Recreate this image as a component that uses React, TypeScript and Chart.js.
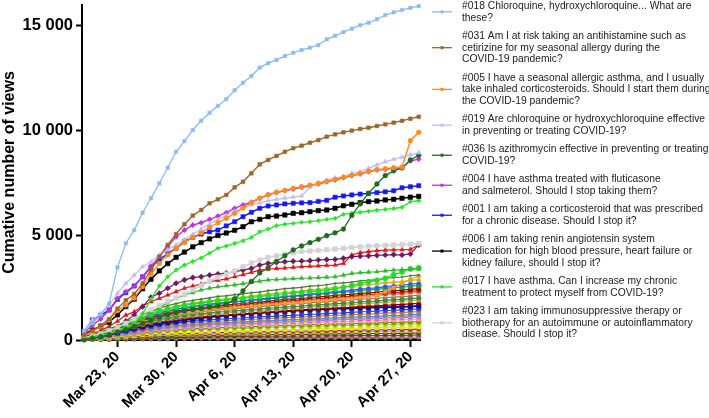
import React, { useEffect, useRef } from 'react';
import { Chart, registerables } from 'chart.js';
Chart.register(...registerables);

const dates = [
  'Mar 19', 'Mar 20', 'Mar 21', 'Mar 22', 'Mar 23', 'Mar 24', 'Mar 25', 'Mar 26', 'Mar 27', 'Mar 28', 'Mar 29', 'Mar 30', 'Mar 31',
  'Apr 1', 'Apr 2', 'Apr 3', 'Apr 4', 'Apr 5', 'Apr 6', 'Apr 7', 'Apr 8', 'Apr 9', 'Apr 10', 'Apr 11', 'Apr 12', 'Apr 13', 'Apr 14',
  'Apr 15', 'Apr 16', 'Apr 17', 'Apr 18', 'Apr 19', 'Apr 20', 'Apr 21', 'Apr 22', 'Apr 23', 'Apr 24', 'Apr 25', 'Apr 26', 'Apr 27', 'Apr 28',
];
const tickDates = ['Mar 23', 'Mar 30', 'Apr 6', 'Apr 13', 'Apr 20', 'Apr 27'];
const tickLabels = ['Mar 23, 20', 'Mar 30, 20', 'Apr 6, 20', 'Apr 13, 20', 'Apr 20, 20', 'Apr 27, 20'];
const yTickValues = [0, 5000, 10000, 15000];
const yMax = 16000;

// Legend series (the ten most viewed questions)
const q018 = [450, 800, 1200, 1750, 3470, 4620, 5250, 6080, 6770, 7480, 8230, 8990, 9500, 10030, 10470, 10850, 11180, 11510, 11930, 12290, 12610, 13010, 13220, 13380, 13560, 13720, 13850, 13960, 14090, 14360, 14530, 14700, 14870, 15040, 15150, 15320, 15520, 15650, 15760, 15860, 15950];
const q031 = [250, 450, 700, 1000, 1500, 1900, 2200, 2700, 3350, 3980, 4540, 5060, 5530, 5940, 6210, 6530, 6720, 6930, 7290, 7560, 7960, 8390, 8600, 8790, 8990, 9160, 9280, 9420, 9550, 9710, 9820, 9920, 10000, 10080, 10140, 10220, 10300, 10380, 10470, 10570, 10660];
const q005 = [200, 400, 650, 950, 1400, 1670, 2000, 2550, 3140, 3660, 4060, 4380, 4650, 4900, 5120, 5380, 5600, 5810, 6050, 6300, 6560, 6770, 6940, 7060, 7150, 7240, 7320, 7400, 7480, 7580, 7670, 7770, 7870, 7950, 8060, 8140, 8180, 8230, 8260, 9520, 9920];
const q019 = [430, 960, 1270, 1670, 2230, 2710, 3100, 3500, 3740, 4060, 4300, 4540, 4800, 5050, 5300, 5550, 5750, 5950, 6150, 6300, 6450, 6550, 6650, 6720, 6780, 6830, 6880, 7300, 7500, 7650, 7740, 7800, 7960, 8040, 8200, 8360, 8520, 8630, 8730, 8840, 8950];
const q036 = [30, 80, 150, 250, 380, 500, 650, 800, 950, 1080, 1200, 1300, 1380, 1450, 1500, 1560, 1620, 1700, 1950, 2350, 2800, 3200, 3450, 3750, 4020, 4300, 4490, 4650, 4810, 4980, 5120, 5300, 5950, 6500, 7000, 7450, 7850, 8080, 8220, 8600, 8820];
const q004 = [350, 700, 1000, 1430, 1990, 2310, 2580, 3020, 3530, 3980, 4460, 4930, 5250, 5490, 5600, 5760, 5920, 6080, 6290, 6450, 6580, 6770, 6930, 7040, 7130, 7210, 7290, 7370, 7450, 7560, 7640, 7750, 7850, 7930, 8040, 8120, 8150, 8200, 8230, 8550, 8640];
const q001 = [400, 960, 1190, 1430, 1940, 2260, 2580, 3020, 3470, 3820, 4140, 4380, 4700, 4900, 5060, 5170, 5250, 5450, 5650, 5890, 6100, 6290, 6400, 6450, 6500, 6530, 6550, 6560, 6620, 6670, 6820, 6880, 6930, 6970, 7000, 7040, 7080, 7130, 7270, 7320, 7370];
const q006 = [300, 480, 650, 850, 1200, 1600, 1950, 2450, 2900, 3300, 3650, 3950, 4200, 4450, 4650, 4830, 4990, 5110, 5240, 5410, 5650, 5760, 5890, 5920, 5970, 6050, 6080, 6130, 6180, 6210, 6290, 6410, 6480, 6560, 6610, 6640, 6690, 6720, 6770, 6820, 6860];
const q017 = [80, 150, 230, 300, 420, 600, 800, 1250, 1950, 2580, 3020, 3340, 3580, 3750, 3920, 4150, 4380, 4490, 4620, 4740, 4900, 5170, 5300, 5460, 5530, 5570, 5620, 5650, 5700, 5760, 5810, 6000, 6060, 6100, 6150, 6200, 6240, 6280, 6340, 6610, 6650];
const q023 = [100, 200, 300, 450, 600, 800, 1000, 1250, 1450, 1650, 1850, 2000, 2200, 2400, 2600, 2800, 3000, 3150, 3300, 3500, 3680, 3820, 3950, 4020, 4100, 4160, 4220, 4250, 4280, 4310, 4340, 4380, 4420, 4450, 4480, 4500, 4520, 4540, 4560, 4580, 4610];

// Other questions (not in the legend)
const o01 = [80, 150, 250, 400, 600, 900, 1200, 1590, 2040, 2230, 2470, 2710, 2870, 2980, 3020, 3100, 3150, 3200, 3260, 3340, 3420, 3580, 3660, 3700, 3740, 3760, 3770, 3790, 3820, 3840, 3850, 3900, 3980, 4000, 4020, 4040, 4060, 4080, 4060, 4110, 4540];
const o02 = [150, 300, 450, 650, 900, 1190, 1350, 1620, 1830, 1990, 2150, 2310, 2470, 2580, 2670, 2790, 2850, 2920, 3020, 3120, 3230, 3340, 3380, 3410, 3440, 3470, 3500, 3520, 3540, 3560, 3580, 3660, 4060, 4170, 4220, 4270, 4290, 4300, 4310, 4330, 4540];
const o03 = [60, 120, 200, 300, 420, 600, 800, 1050, 1300, 1550, 1780, 1990, 2150, 2260, 2390, 2470, 2540, 2590, 2630, 2690, 2750, 2810, 2870, 2890, 2910, 2930, 2950, 2960, 2980, 3000, 3020, 3100, 3180, 3210, 3240, 3260, 3300, 3340, 3360, 3370, 3380];
const o04 = [110, 220, 340, 480, 620, 780, 920, 1090, 1230, 1370, 1480, 1570, 1650, 1710, 1760, 1820, 1880, 1900, 1960, 1990, 2040, 2070, 2130, 2160, 2210, 2240, 2270, 2320, 2350, 2380, 2440, 2520, 2600, 2700, 2780, 2850, 2950, 3120, 3250, 3400, 3450];
const o05 = [120, 250, 370, 530, 680, 870, 1020, 1210, 1360, 1520, 1640, 1740, 1830, 1890, 1950, 2010, 2080, 2110, 2170, 2200, 2260, 2290, 2360, 2390, 2450, 2480, 2510, 2570, 2600, 2640, 2700, 2730, 2760, 2820, 2850, 2880, 2950, 2980, 3010, 3070, 3100];
const o06 = [110, 230, 350, 490, 630, 810, 950, 1120, 1270, 1410, 1530, 1610, 1700, 1760, 1810, 1870, 1930, 1960, 2020, 2040, 2100, 2130, 2190, 2220, 2280, 2300, 2330, 2390, 2420, 2450, 2510, 2530, 2560, 2620, 2650, 2680, 2740, 2760, 2790, 2850, 2880];
const o07 = [90, 180, 270, 380, 490, 620, 740, 870, 980, 1090, 1180, 1250, 1310, 1360, 1400, 1440, 1490, 1510, 1560, 1580, 1620, 1650, 1690, 1710, 1760, 1780, 1800, 1840, 1870, 1890, 1930, 1960, 1980, 2030, 2080, 2150, 2300, 2500, 2700, 2900, 3050];
const o08 = [100, 210, 320, 450, 580, 740, 870, 1030, 1160, 1290, 1400, 1470, 1550, 1600, 1650, 1700, 1760, 1790, 1840, 1870, 1920, 1950, 2000, 2030, 2090, 2110, 2140, 2200, 2220, 2260, 2310, 2340, 2370, 2430, 2460, 2490, 2550, 2580, 2620, 2670, 2700];
const o09 = [100, 210, 310, 440, 570, 730, 860, 1010, 1140, 1270, 1380, 1460, 1530, 1590, 1640, 1690, 1740, 1770, 1820, 1850, 1900, 1920, 1980, 2000, 2050, 2080, 2110, 2160, 2180, 2210, 2260, 2290, 2310, 2370, 2390, 2420, 2470, 2500, 2520, 2570, 2600];
const o10 = [90, 200, 290, 420, 540, 690, 810, 950, 1080, 1200, 1300, 1370, 1450, 1490, 1540, 1590, 1640, 1670, 1720, 1740, 1790, 1810, 1860, 1890, 1940, 1960, 1980, 2030, 2060, 2080, 2130, 2160, 2180, 2230, 2250, 2280, 2330, 2350, 2380, 2420, 2450];
const o11 = [80, 190, 280, 400, 520, 660, 780, 920, 1030, 1150, 1250, 1320, 1390, 1430, 1480, 1530, 1570, 1600, 1650, 1670, 1720, 1740, 1790, 1810, 1860, 1880, 1900, 1950, 1970, 2000, 2040, 2070, 2090, 2140, 2160, 2190, 2230, 2260, 2280, 2330, 2350];
const o12 = [90, 180, 280, 390, 500, 640, 760, 900, 1010, 1130, 1220, 1290, 1360, 1400, 1450, 1500, 1540, 1560, 1610, 1630, 1680, 1700, 1750, 1770, 1820, 1840, 1860, 1910, 1930, 1960, 2000, 2020, 2050, 2090, 2120, 2140, 2190, 2210, 2230, 2280, 2300];
const o13 = [90, 170, 270, 380, 490, 630, 740, 880, 990, 1100, 1190, 1260, 1330, 1370, 1420, 1460, 1510, 1530, 1580, 1600, 1640, 1670, 1710, 1730, 1780, 1800, 1820, 1870, 1890, 1910, 1960, 1980, 2000, 2050, 2070, 2090, 2140, 2160, 2180, 2230, 2250];
const o14 = [80, 170, 260, 360, 470, 600, 710, 840, 950, 1050, 1140, 1200, 1270, 1310, 1350, 1400, 1440, 1460, 1500, 1530, 1570, 1590, 1630, 1650, 1700, 1720, 1740, 1780, 1800, 1830, 1870, 1890, 1910, 1950, 1970, 1990, 2030, 2050, 2070, 2100, 2150];
const o15 = [70, 160, 240, 340, 440, 560, 660, 780, 880, 980, 1060, 1120, 1180, 1220, 1260, 1300, 1340, 1360, 1400, 1420, 1460, 1480, 1520, 1540, 1580, 1600, 1620, 1660, 1680, 1700, 1740, 1760, 1780, 1820, 1840, 1860, 1900, 1920, 1940, 1980, 2000];
const o16 = [70, 150, 230, 320, 420, 530, 630, 740, 840, 930, 1010, 1060, 1120, 1160, 1200, 1240, 1270, 1290, 1330, 1350, 1390, 1410, 1440, 1460, 1500, 1520, 1540, 1580, 1600, 1620, 1650, 1670, 1690, 1730, 1750, 1770, 1810, 1820, 1840, 1880, 1900];
const o17 = [60, 140, 210, 300, 390, 490, 580, 680, 770, 860, 930, 980, 1030, 1070, 1100, 1140, 1170, 1190, 1230, 1240, 1280, 1300, 1330, 1350, 1380, 1400, 1420, 1450, 1470, 1490, 1520, 1540, 1560, 1590, 1610, 1630, 1660, 1680, 1700, 1730, 1750];
const o18 = [50, 110, 180, 260, 360, 470, 560, 640, 720, 790, 850, 900, 950, 1000, 1050, 1100, 1140, 1170, 1200, 1230, 1260, 1290, 1320, 1340, 1370, 1400, 1420, 1440, 1460, 1480, 1500, 1510, 1520, 1540, 1550, 1560, 1570, 1580, 1590, 1600, 1620];
const o19 = [50, 110, 170, 240, 320, 410, 480, 570, 640, 720, 780, 820, 870, 900, 930, 960, 990, 1010, 1040, 1050, 1080, 1100, 1130, 1140, 1170, 1180, 1200, 1230, 1240, 1260, 1290, 1300, 1320, 1350, 1360, 1380, 1410, 1420, 1440, 1460, 1480];
const o20 = [50, 100, 160, 230, 300, 380, 450, 530, 590, 660, 720, 760, 800, 820, 850, 880, 900, 920, 950, 960, 990, 1000, 1030, 1040, 1070, 1080, 1090, 1120, 1130, 1150, 1170, 1190, 1200, 1230, 1240, 1260, 1280, 1300, 1310, 1340, 1350];
const o21 = [40, 90, 150, 210, 270, 340, 400, 480, 540, 600, 650, 690, 720, 740, 770, 790, 820, 830, 850, 870, 890, 900, 930, 940, 960, 980, 990, 1010, 1020, 1040, 1060, 1070, 1090, 1110, 1120, 1130, 1160, 1170, 1180, 1210, 1220];
const o22 = [40, 90, 140, 200, 250, 320, 380, 450, 510, 560, 610, 640, 680, 700, 720, 750, 770, 780, 810, 820, 840, 850, 870, 890, 910, 920, 930, 950, 970, 980, 1000, 1010, 1020, 1050, 1060, 1070, 1090, 1100, 1120, 1140, 1150];
const o23 = [40, 90, 130, 190, 240, 310, 360, 430, 480, 540, 580, 620, 650, 670, 690, 720, 740, 750, 770, 780, 800, 810, 840, 850, 870, 880, 890, 910, 920, 940, 960, 970, 980, 1000, 1010, 1020, 1050, 1060, 1070, 1090, 1100];
const o24 = [40, 80, 120, 170, 220, 280, 330, 390, 440, 490, 530, 560, 590, 610, 630, 650, 670, 680, 700, 710, 730, 740, 760, 770, 790, 800, 810, 830, 840, 850, 870, 880, 890, 910, 920, 930, 950, 960, 970, 990, 1000];
const o25 = [30, 70, 110, 150, 190, 250, 290, 340, 390, 430, 470, 490, 520, 540, 550, 570, 590, 600, 620, 620, 640, 650, 670, 680, 700, 700, 710, 730, 740, 750, 770, 770, 780, 800, 810, 820, 840, 840, 850, 870, 880];
const o26 = [30, 60, 90, 130, 170, 220, 260, 300, 340, 380, 410, 440, 460, 480, 490, 510, 520, 530, 550, 550, 570, 580, 590, 600, 620, 620, 630, 650, 660, 660, 680, 690, 690, 710, 720, 730, 740, 750, 760, 770, 780];
const o27 = [20, 50, 80, 110, 140, 180, 210, 250, 280, 310, 330, 350, 370, 380, 390, 400, 420, 430, 440, 450, 460, 470, 480, 490, 500, 500, 510, 520, 530, 540, 550, 560, 560, 570, 580, 580, 600, 600, 610, 620, 620];
const o28 = [20, 40, 60, 90, 110, 150, 170, 200, 230, 260, 280, 290, 310, 320, 330, 340, 350, 360, 370, 370, 380, 390, 400, 400, 420, 420, 420, 430, 440, 440, 450, 460, 460, 470, 480, 480, 490, 500, 500, 510, 520];
const o29 = [20, 30, 50, 70, 100, 120, 140, 170, 190, 210, 230, 240, 250, 260, 270, 280, 290, 290, 300, 310, 310, 320, 330, 330, 340, 340, 350, 360, 360, 370, 370, 380, 380, 390, 400, 400, 410, 410, 420, 430, 430];
const o30 = [10, 30, 40, 60, 70, 90, 110, 130, 150, 160, 170, 180, 190, 200, 210, 210, 220, 230, 230, 240, 240, 250, 250, 260, 260, 260, 270, 270, 280, 280, 290, 290, 290, 300, 300, 310, 310, 320, 320, 330, 330];
const o31 = [10, 20, 30, 40, 50, 60, 80, 90, 100, 110, 120, 130, 130, 140, 140, 150, 150, 160, 160, 160, 170, 170, 180, 180, 180, 180, 190, 190, 190, 200, 200, 200, 210, 210, 210, 210, 220, 220, 220, 230, 230];
const o32 = [10, 10, 20, 20, 30, 40, 50, 50, 60, 70, 70, 80, 80, 80, 90, 90, 90, 100, 100, 100, 100, 110, 110, 110, 110, 110, 120, 120, 120, 120, 120, 130, 130, 130, 130, 130, 140, 140, 140, 140, 140];
const o33 = [0, 5, 5, 10, 10, 15, 20, 20, 25, 25, 30, 30, 30, 35, 35, 35, 40, 40, 40, 40, 40, 45, 45, 45, 45, 45, 50, 50, 50, 50, 50, 50, 55, 55, 55, 55, 55, 60, 60, 60, 60];

type S = { data: number[]; color: string; style?: string; r?: number; w?: number; legend?: string[] };

const mainSeries: S[] = [
  { data: q018, color: '#8cb9f6', style: 'rect', r: 2.4, w: 1.3, legend: ['#018 Chloroquine, hydroxychloroquine... What are', 'these?'] },
  { data: q031, color: '#9e6528', style: 'rect', r: 2.6, w: 1.4, legend: ['#031 Am I at risk taking an antihistamine such as', 'cetirizine for my seasonal allergy during the', 'COVID-19 pandemic?'] },
  { data: q005, color: '#ff8a1a', style: 'circle', r: 2.4, w: 1.4, legend: ['#005 I have a seasonal allergic asthma, and I usually', 'take inhaled corticosteroids. Should I start them during', 'the COVID-19 pandemic?'] },
  { data: q019, color: '#c3bbf8', style: 'triangle', r: 2.6, w: 1.3, legend: ['#019 Are chloroquine or hydroxychloroquine effective', 'in preventing or treating COVID-19?'] },
  { data: q036, color: '#1e6b1e', style: 'circle', r: 2.4, w: 1.3, legend: ['#036 Is azithromycin effective in preventing or treating', 'COVID-19?'] },
  { data: q004, color: '#bb33dd', style: 'rectRot', r: 2.6, w: 1.4, legend: ['#004 I have asthma treated with fluticasone', 'and salmeterol. Should I stop taking them?'] },
  { data: q001, color: '#1818ff', style: 'rect', r: 3, w: 1.5, legend: ['#001 I am taking a corticosteroid that was prescribed', 'for a chronic disease. Should I stop it?'] },
  { data: q006, color: '#000000', style: 'rect', r: 3.2, w: 1.5, legend: ['#006 I am taking renin angiotensin system', 'medication for high blood pressure, heart failure or', 'kidney failure, should I stop it?'] },
  { data: q017, color: '#22e822', style: 'rectRot', r: 2.2, w: 1.3, legend: ['#017 I have asthma. Can I increase my chronic', 'treatment to protect myself from COVID-19?'] },
  { data: q023, color: '#d2d2d2', style: 'rect', r: 3.2, w: 1.5, legend: ['#023 I am taking immunosuppressive therapy or', 'biotherapy for an autoimmune or autoinflammatory', 'disease. Should I stop it?'] },
];

const otherSeries: S[] = [
  { data: o01, color: '#6e1a5a', style: 'rectRot', r: 2.8 },
  { data: o02, color: '#ee1111', style: 'triangle', r: 2.6 },
  { data: o03, color: '#2dbb2d', style: 'triangle', r: 2.6 },
  { data: o04, color: '#22dd22', style: 'circle', r: 2.6 },
  { data: o05, color: '#4f7a3a', style: 'circle', r: 1 },
  { data: o06, color: '#c8b800', style: 'triangle', r: 2.8 },
  { data: o07, color: '#f59a3a', style: 'circle', r: 2 },
  { data: o08, color: '#3355ff', style: 'circle', r: 2 },
  { data: o09, color: '#22aa22', style: 'circle', r: 2.6 },
  { data: o10, color: '#a00000', style: 'rect', r: 2.8 },
  { data: o11, color: '#e02020', style: 'circle', r: 2.4 },
  { data: o12, color: '#b8b000', style: 'triangle', r: 2.8 },
  { data: o13, color: '#9fcbee', style: 'circle', r: 2 },
  { data: o14, color: '#b06a30', style: 'rect', r: 2.4 },
  { data: o15, color: '#2e8b57', style: 'circle', r: 2.4 },
  { data: o16, color: '#d4a017', style: 'rect', r: 2.6 },
  { data: o17, color: '#800000', style: 'rect', r: 2.6 },
  { data: o18, color: '#0a0aa8', style: 'rect', r: 3.2, w: 2 },
  { data: o19, color: '#2040e0', style: 'rect', r: 2.8 },
  { data: o20, color: '#cc7722', style: 'rect', r: 2.8 },
  { data: o21, color: '#3090ff', style: 'circle', r: 2.2 },
  { data: o22, color: '#e8a070', style: 'rect', r: 2.6 },
  { data: o23, color: '#e040e0', style: 'rect', r: 2.6 },
  { data: o24, color: '#f0a0c0', style: 'circle', r: 2.4 },
  { data: o25, color: '#8b8b00', style: 'circle', r: 2.4 },
  { data: o26, color: '#99dd33', style: 'circle', r: 2.4 },
  { data: o27, color: '#f5e400', style: 'rect', r: 3 },
  { data: o28, color: '#7030a0', style: 'circle', r: 2.2 },
  { data: o29, color: '#ffa500', style: 'rect', r: 2.6 },
  { data: o30, color: '#1c5c1c', style: 'circle', r: 2.4 },
  { data: o31, color: '#cc2222', style: 'triangle', r: 2.4 },
  { data: o32, color: '#888888', style: 'circle', r: 2.2 },
  { data: o33, color: '#222222', style: 'rect', r: 2 },
];

const FONT = "'Liberation Sans', Arial, Helvetica, sans-serif";

const legendPlugin = {
  id: 'manualLegend',
  afterDraw(chart: any) {
    const ctx = chart.ctx as CanvasRenderingContext2D;
    const lineH = 11.67;
    const gap = 6.67;
    let y = 6;
    ctx.save();
    ctx.font = `10.3px ${FONT}`;
    ctx.textBaseline = 'middle';
    ctx.textAlign = 'left';
    for (const s of mainSeries) {
      const lines = s.legend || [];
      const my = y + ((lines.length - 1) * lineH) / 2;
      ctx.strokeStyle = s.color;
      ctx.lineWidth = 1.3;
      ctx.beginPath();
      ctx.moveTo(432, my);
      ctx.lineTo(452, my);
      ctx.stroke();
      ctx.fillStyle = s.color;
      ctx.fillRect(440.5, my - 1.5, 3, 3);
      ctx.fillStyle = '#222222';
      lines.forEach((t, i) => ctx.fillText(t, 462, y + i * lineH));
      y += lines.length * lineH + gap;
    }
    ctx.restore();
  },
};

function fmt(v: number) {
  if (v === 0) return '0';
  const th = Math.floor(v / 1000);
  const rest = String(v % 1000).padStart(3, '0');
  return `${th} ${rest}`;
}

export default function App() {
  const ref = useRef<HTMLCanvasElement>(null);
  useEffect(() => {
    document.body.style.margin = '0';
    const canvas = ref.current!;
    const tickIdx = tickDates.map((d) => dates.indexOf(d));
    const all = [...mainSeries, ...otherSeries];
    const chart = new Chart(canvas, {
      type: 'line',
      data: {
        labels: dates,
        datasets: all.map((s) => ({
          data: s.data.map((v, i) => ({ x: i, y: v })),
          borderColor: s.color,
          backgroundColor: s.color,
          borderWidth: s.w ?? 1.2,
          pointRadius: s.r ?? 2.4,
          pointStyle: (s.style || 'circle') as any,
          pointBorderWidth: 0.5,
          tension: 0,
          clip: false as any,
        })),
      },
      options: {
        responsive: false,
        animation: false,
        devicePixelRatio: 1,
        events: [],
        layout: { padding: { left: 0, right: 289, top: 5, bottom: 0 } },
        plugins: { legend: { display: false }, tooltip: { enabled: false }, title: { display: false } },
        scales: {
          x: {
            type: 'linear',
            min: -0.24,
            max: 40.15,
            afterBuildTicks: (s: any) => {
              s.ticks = tickIdx.map((v) => ({ value: v }));
            },
            afterFit: (s: any) => {
              s.height = 78;
              s.paddingLeft = 0;
              s.paddingRight = 0;
            },
            ticks: {
              autoSkip: false,
              maxRotation: 45,
              minRotation: 45,
              padding: 1,
              color: '#000',
              font: { family: FONT, size: 15, weight: 'bold' },
              callback: (v: any) => {
                const k = tickIdx.indexOf(Number(v));
                return k >= 0 ? tickLabels[k] : '';
              },
            },
            grid: { display: true, drawOnChartArea: false, drawTicks: true, tickLength: 7, tickWidth: 2, tickColor: '#000' },
            border: { display: true, color: '#000', width: 2 },
          },
          y: {
            min: 0,
            max: yMax,
            afterBuildTicks: (s: any) => {
              s.ticks = yTickValues.map((v) => ({ value: v }));
            },
            afterFit: (s: any) => {
              s.width = 82;
              s.paddingTop = 0;
              s.paddingBottom = 0;
            },
            ticks: {
              padding: 3,
              color: '#000',
              font: { family: FONT, size: 16.5, weight: 'bold' },
              callback: (v: any) => fmt(Number(v)),
            },
            title: {
              display: true,
              text: 'Cumative number of views',
              color: '#000',
              font: { family: FONT, size: 16, weight: 'bold' },
              padding: { top: 0, bottom: 0 },
            },
            grid: { display: true, drawOnChartArea: false, drawTicks: true, tickLength: 6, tickWidth: 2, tickColor: '#000' },
            border: { display: true, color: '#000', width: 2 },
          },
        },
      } as any,
      plugins: [legendPlugin],
    });
    return () => chart.destroy();
  }, []);
  return (
    <div style={{ width: 709, height: 418, position: 'relative' }}>
      <canvas ref={ref} width={709} height={418} style={{ display: 'block' }} />
    </div>
  );
}
